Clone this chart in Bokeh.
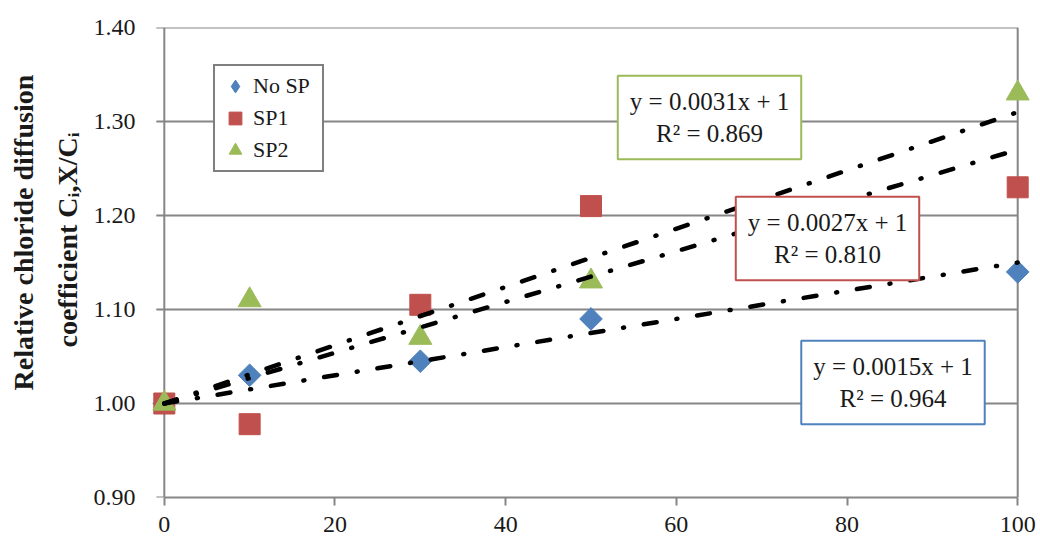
import math
import numpy as np
from bokeh.plotting import figure
from bokeh.models import (Range1d, FixedTicker, NumeralTickFormatter, Label,
                          Legend, LegendItem, Title)
from bokeh.embed import file_html
from bokeh.resources import INLINE

# ---------------- data ----------------
x_values = [0, 10, 30, 50, 100]
no_sp = [1.00, 1.03, 1.045, 1.09, 1.14]
sp1 = [1.00, 0.978, 1.105, 1.21, 1.23]
sp2 = [1.00, 1.11, 1.07, 1.13, 1.33]
series_names = ["No SP", "SP1", "SP2"]
trend_slopes = [0.0015, 0.0027, 0.0031]
trend_intercepts = [1, 1, 1]
r_squared = [0.964, 0.810, 0.869]
x_ticks = [0, 20, 40, 60, 80, 100]
y_ticks = [0.90, 1.00, 1.10, 1.20, 1.30, 1.40]
y_title_line1 = "Relative chloride diffusion"
y_title_line2 = "coefficient C\u1d62,X/C\u1d62"

# ---------------- style ----------------
BLUE, RED, GREEN = "#4F81BD", "#C0504D", "#9BBB59"
GRAY = "#868686"
TXT = "#1a1a1a"
FONT = "Liberation Serif"

W, H = 1040, 545
ML, MR, MT, MB = 151, 10, 27, 48
X0, X1 = -1.5, 101.5
Y0, Y1 = 0.9, 1.4
frame_w = W - ML - MR
frame_h = H - MT - MB
px_x = frame_w / (X1 - X0)   # px per x unit
px_y = frame_h / (Y1 - Y0)   # px per y unit


def dx(page_x):
    return X0 + (page_x - ML) / px_x


def dy(page_y):
    return Y1 - (page_y - MT) / px_y


p = figure(width=W, height=H, x_range=Range1d(X0, X1), y_range=Range1d(Y0, Y1),
           output_backend="svg", toolbar_location=None,
           min_border_left=ML, min_border_right=MR, min_border_top=MT,
           min_border_bottom=MB)
p.outline_line_color = None
p.background_fill_color = "white"
p.border_fill_color = "white"
p.xgrid.visible = False
p.ygrid.visible = False

n_h = len(y_ticks) - 1
# horizontal gridlines between x=0 and x=100
p.segment(x0=[x_ticks[0]] * n_h, x1=[x_ticks[-1]] * n_h,
          y0=y_ticks[1:], y1=y_ticks[1:], line_color=GRAY, line_width=2)
# right border and y axis line at x=0
p.segment(x0=[x_ticks[0], x_ticks[-1]], x1=[x_ticks[0], x_ticks[-1]],
          y0=[y_ticks[0]] * 2, y1=[y_ticks[-1]] * 2, line_color=GRAY, line_width=2)
# y tick marks (outside, to the left of x=0)
tick_len = 8 / px_x
p.segment(x0=[x_ticks[0] - tick_len] * len(y_ticks), x1=[x_ticks[0]] * len(y_ticks),
          y0=y_ticks, y1=y_ticks, line_color=GRAY, line_width=2)

# x axis
xa = p.xaxis[0]
xa.ticker = FixedTicker(ticks=x_ticks)
xa.bounds = (x_ticks[0], x_ticks[-1])
xa.major_tick_in = 0
xa.major_tick_out = 8
xa.minor_tick_in = 0
xa.minor_tick_out = 0
xa.axis_line_color = GRAY
xa.axis_line_width = 2
xa.major_tick_line_color = GRAY
xa.major_tick_line_width = 2
xa.major_label_standoff = 11
xa.major_label_text_font = FONT
xa.major_label_text_font_size = "24px"
xa.major_label_text_color = TXT

# y axis (labels only; line and ticks drawn at x=0 above)
ya = p.yaxis[0]
ya.ticker = FixedTicker(ticks=y_ticks)
ya.formatter = NumeralTickFormatter(format="0.00")
ya.axis_line_color = None
ya.major_tick_line_color = None
ya.minor_tick_line_color = None
ya.major_tick_in = 0
ya.major_tick_out = 0
ya.minor_tick_in = 0
ya.minor_tick_out = 0
ya.major_label_standoff = 16
ya.major_label_text_font = FONT
ya.major_label_text_font_size = "24px"
ya.major_label_text_color = TXT

# y axis title as two left-side titles (inner line first);
# align="left" means measured up from the bottom of the plot area
t2 = Title(text=y_title_line2, align="left", offset=150, standoff=15,
           text_font=FONT, text_font_style="bold", text_font_size="28px",
           text_color=TXT)
t1 = Title(text=y_title_line1, align="left", offset=107, standoff=7,
           text_font=FONT, text_font_style="bold", text_font_size="28px",
           text_color=TXT)
p.add_layout(t2, "left")
p.add_layout(t1, "left")

# markers
r_blue = p.scatter(x_values, no_sp, marker="square", angle=math.pi / 4, size=16,
                   fill_color=BLUE, line_color=BLUE)
r_red = p.scatter(x_values, sp1, marker="square", size=21,
                  fill_color=RED, line_color=RED)
r_green = p.scatter(x_values, sp2, marker="triangle", size=23,
                    fill_color=GREEN, line_color=GREEN)
# legend proxy for the diamond symbol (no visible points)
r_blue_leg = p.scatter([np.nan], [np.nan], marker="diamond", size=15,
                       fill_color=BLUE, line_color=BLUE)

# trend lines (from slopes/intercepts)
for s, b in zip(trend_slopes, trend_intercepts):
    xs = [x_ticks[0], x_ticks[-1]]
    ys = [b + s * xv for xv in xs]
    p.line(xs, ys, line_color="black", line_width=4.5, line_dash="13 20 1 20",
           line_cap="round")

# legend
legend = Legend(items=[LegendItem(label=series_names[0], renderers=[r_blue_leg]),
                       LegendItem(label=series_names[1], renderers=[r_red]),
                       LegendItem(label=series_names[2], renderers=[r_green])],
                location=(213 - ML, (MT + frame_h) - 172),
                orientation="vertical", padding=4, spacing=0,
                glyph_width=32, glyph_height=32, label_standoff=2, label_width=65,
                label_text_font=FONT, label_text_font_size="22px",
                label_text_color=TXT,
                border_line_color="black", border_line_width=2,
                background_fill_color="white", background_fill_alpha=1, margin=0)
p.add_layout(legend)

# equation boxes
box_centers = [(892.5, 382), (827, 238), (709, 117)]  # page px, per series
colors = [BLUE, RED, GREEN]
for (cx, cy), s, b, r2, c in zip(box_centers, trend_slopes, trend_intercepts, r_squared, colors):
    txt = f"y = {s:.4f}x + {b}\nR\u00b2 = {r2:.3f}"
    p.add_layout(Label(x=dx(cx), y=dy(cy), text=txt, anchor="center",
                       text_align="center", text_font=FONT, text_font_size="25px",
                       text_color=TXT, text_line_height=1.2,
                       border_line_color=c, border_line_width=2,
                       background_fill_color="white", padding=12))

open("out.html", "w").write(file_html(p, INLINE))
